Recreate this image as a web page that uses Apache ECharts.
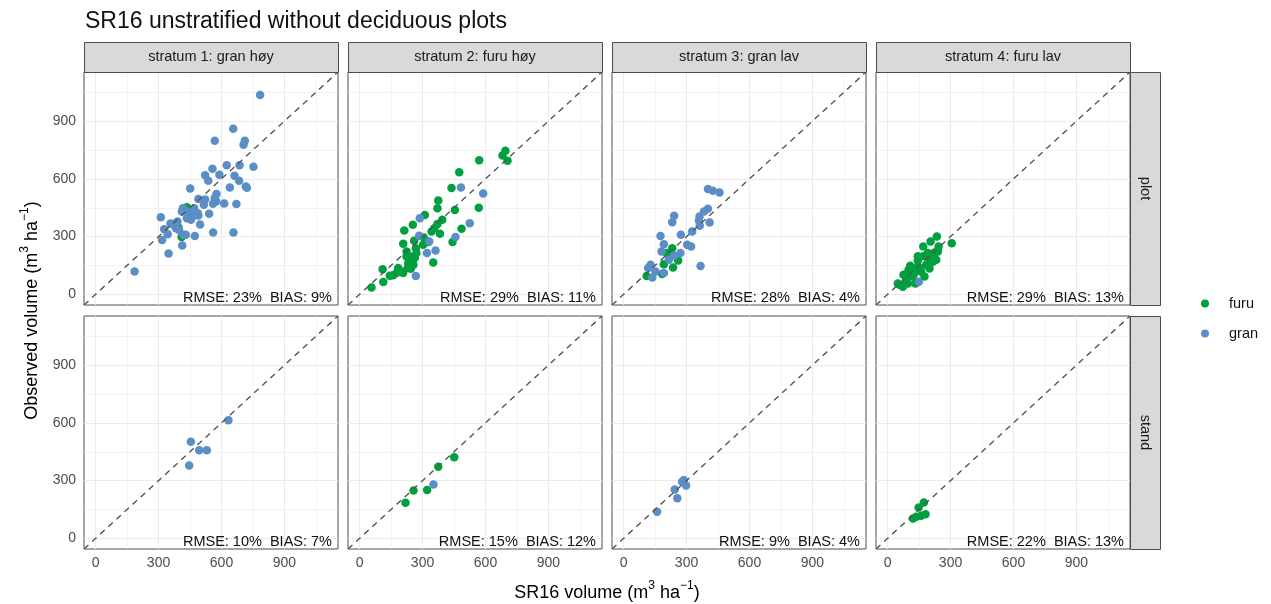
<!DOCTYPE html>
<html>
<head>
<meta charset="utf-8">
<script src="https://cdn.jsdelivr.net/npm/echarts@6/dist/echarts.min.js"></script>
<style>
  html, body { margin: 0; padding: 0; background: #ffffff; }
  #chart { width: 1271px; height: 604px; }
</style>
</head>
<body>
<div id="chart"></div>
<script>
// Facet labels and per-panel accuracy statistics
const strata = ['stratum 1: gran høy', 'stratum 2: furu høy', 'stratum 3: gran lav', 'stratum 4: furu lav'];
const levels = ['plot', 'stand'];
const species = ['furu', 'gran'];
const rmse = [[23, 29, 28, 29], [10, 15, 9, 22]];
const bias = [[9, 11, 4, 13], [7, 12, 4, 13]];
const majorTicks = [0, 300, 600, 900];
const minorTicks = [150, 450, 750, 1050];
const axisRange = [-55, 1155];

// Plot level: [SR16 volume, observed volume]
const plotS1Furu = [[435, 452], [395, 348], [410, 298]];
const plotS1Gran = [[784, 1035], [656, 860], [568, 798], [711, 798], [705, 777], [625, 671], [686, 671], [752, 663],
  [557, 652], [522, 619], [590, 621], [662, 616], [537, 590], [684, 590], [716, 561], [721, 554], [640, 555],
  [451, 550], [576, 521], [568, 500], [490, 495], [522, 493], [575, 483], [560, 471], [613, 472], [671, 469],
  [516, 465], [416, 448], [470, 448], [443, 431], [487, 422], [490, 410], [541, 419], [470, 410], [435, 396],
  [311, 401], [411, 431], [454, 388], [390, 379], [357, 368], [371, 365], [498, 363], [327, 339], [383, 344],
  [398, 334], [344, 313], [560, 322], [657, 322], [317, 282], [419, 310], [430, 310], [473, 303], [413, 254],
  [348, 213], [186, 119]];
const plotS2Furu = [[695, 746], [681, 721], [705, 694], [570, 697], [475, 635], [438, 552], [568, 450], [454, 438],
  [375, 488], [371, 448], [311, 413], [254, 362], [394, 388], [371, 365], [356, 344], [383, 315], [343, 327],
  [213, 332], [208, 263], [260, 279], [306, 296], [327, 272], [303, 258], [486, 341], [443, 272], [268, 240],
  [271, 215], [224, 197], [248, 180], [232, 163], [257, 154], [351, 166], [184, 137], [244, 133], [200, 119],
  [176, 111], [160, 99], [144, 97], [110, 131], [113, 64], [57, 36], [224, 223], [240, 197], [263, 189],
  [229, 137], [208, 111]];
const plotS2Gran = [[483, 555], [589, 524], [287, 396], [525, 369], [457, 298], [284, 304], [332, 275], [362, 228],
  [321, 215], [268, 95]];
const plotS3Furu = [[232, 240], [205, 215], [192, 157], [260, 176], [236, 140], [110, 95], [184, 106], [216, 206]];
const plotS3Gran = [[402, 548], [425, 538], [457, 529], [402, 445], [383, 431], [362, 405], [359, 384], [410, 374],
  [241, 408], [232, 375], [363, 356], [327, 327], [273, 310], [176, 303], [192, 261], [303, 258], [322, 249],
  [181, 223], [271, 215], [240, 201], [216, 180], [367, 147], [129, 154], [117, 137], [152, 119], [137, 88],
  [192, 111]];
const plotS4Furu = [[235, 301], [205, 275], [170, 249], [306, 266], [243, 249], [224, 218], [192, 215], [170, 198],
  [144, 175], [108, 149], [100, 128], [76, 102], [57, 50], [49, 57], [89, 75], [121, 93], [160, 119], [200, 135],
  [216, 170], [232, 180], [184, 154], [152, 137], [129, 111], [97, 57], [108, 102], [133, 57], [73, 40],
  [176, 93], [200, 189], [137, 137], [240, 223], [144, 198], [113, 128]];
const plotS4Gran = [[149, 66]];

// Stand level: [SR16 volume, observed volume]
const standS1Furu = [];
const standS1Gran = [[633, 614], [454, 502], [494, 458], [530, 458], [446, 379]];
const standS2Furu = [[451, 422], [375, 372], [257, 249], [322, 251], [219, 185]];
const standS2Gran = [[352, 280]];
const standS3Furu = [];
const standS3Gran = [[287, 303], [298, 275], [279, 294], [244, 254], [256, 208], [160, 138]];
const standS4Furu = [[173, 187], [148, 161], [181, 126], [160, 118], [121, 104], [137, 112]];
const standS4Gran = [];

const panelData = [
  [[plotS1Furu, plotS1Gran], [plotS2Furu, plotS2Gran], [plotS3Furu, plotS3Gran], [plotS4Furu, plotS4Gran]],
  [[standS1Furu, standS1Gran], [standS2Furu, standS2Gran], [standS3Furu, standS3Gran], [standS4Furu, standS4Gran]]
];

// Layout of the facet grid
const FONT = 'Liberation Sans, Arial, Helvetica, sans-serif';
const colLeft = [84, 348, 612, 876];
const rowTop = [72, 316];
const panelW = 254;
const panelH = 233;
const stripH = 30;
const stripW = 30;
const speciesColor = { furu: '#00A03E', gran: '#5B8EC6' };
const gridLineColor = '#EBEBEB';
const borderColor = '#4d4d4d';

const grids = [], xAxes = [], yAxes = [], series = [], graphics = [];

levels.forEach((lvl, r) => {
  strata.forEach((st, c) => {
    const g = r * 4 + c;
    grids.push({
      left: colLeft[c], top: rowTop[r], width: panelW, height: panelH,
      show: true, borderColor: borderColor, borderWidth: 1, backgroundColor: '#ffffff'
    });
    const showX = r === levels.length - 1;
    const showY = c === 0;
    xAxes.push({
      type: 'value', gridIndex: g, min: axisRange[0], max: axisRange[1],
      axisLine: { show: false },
      axisTick: { show: showX, customValues: majorTicks, length: 4, lineStyle: { color: '#333333' } },
      axisLabel: { show: showX, customValues: majorTicks, color: '#4D4D4D', fontSize: 14, fontFamily: FONT, margin: 7 },
      splitLine: { show: false }
    });
    yAxes.push({
      type: 'value', gridIndex: g, min: axisRange[0], max: axisRange[1],
      axisLine: { show: false },
      axisTick: { show: showY, customValues: majorTicks, length: 4, lineStyle: { color: '#333333' } },
      axisLabel: { show: showY, customValues: majorTicks, color: '#4D4D4D', fontSize: 14, fontFamily: FONT, margin: 8 },
      splitLine: { show: false }
    });

    // background grid lines (minor, then major), kept beneath the points
    const gridLines = (ticks, width) => ({
      type: 'line', xAxisIndex: g, yAxisIndex: g, data: [[axisRange[0], axisRange[0]]],
      showSymbol: false, symbol: 'none', lineStyle: { opacity: 0 }, silent: true, z: 1,
      markLine: {
        silent: true, symbol: ['none', 'none'], label: { show: false },
        animation: false, z: 1,
        lineStyle: { color: gridLineColor, width: width, type: 'solid' },
        emphasis: { disabled: true },
        data: ticks.map(v => ({ xAxis: v })).concat(ticks.map(v => ({ yAxis: v })))
      }
    });
    series.push(gridLines(minorTicks, 0.6));
    series.push(gridLines(majorTicks, 1.1));

    // observations
    species.forEach((sp, k) => {
      series.push({
        type: 'scatter', name: sp, xAxisIndex: g, yAxisIndex: g,
        data: panelData[r][c][k], symbolSize: 8.5,
        itemStyle: { color: speciesColor[sp], opacity: 1 },
        z: 3
      });
    });

    // 1:1 reference line
    series.push({
      type: 'line', xAxisIndex: g, yAxisIndex: g,
      data: [[axisRange[0], axisRange[0]], [axisRange[1], axisRange[1]]],
      showSymbol: false, symbol: 'none', silent: true, z: 6,
      lineStyle: { color: '#555555', width: 1.4, type: [6, 5] }
    });

    // accuracy annotation in the lower-right corner
    graphics.push({
      type: 'text', z: 100,
      x: colLeft[c] + panelW - 6, y: rowTop[r] + panelH,
      style: {
        text: 'RMSE: ' + rmse[r][c] + '%  BIAS: ' + bias[r][c] + '%',
        fill: '#111111', font: '14.5px ' + FONT, align: 'right', verticalAlign: 'bottom'
      }
    });
  });
});

// column strips
strata.forEach((st, c) => {
  graphics.push({
    type: 'rect', z: 50,
    shape: { x: colLeft[c] + 0.5, y: rowTop[0] - stripH + 0.5, width: panelW, height: stripH },
    style: { fill: '#D9D9D9', stroke: borderColor, lineWidth: 1 }
  });
  graphics.push({
    type: 'text', z: 51,
    x: colLeft[c] + panelW / 2, y: rowTop[0] - stripH / 2,
    style: { text: st, fill: '#1A1A1A', font: '14.5px ' + FONT, align: 'center', verticalAlign: 'middle' }
  });
});

// row strips
levels.forEach((lvl, r) => {
  const x0 = colLeft[3] + panelW;
  graphics.push({
    type: 'rect', z: 50,
    shape: { x: x0 + 0.5, y: rowTop[r] + 0.5, width: stripW, height: panelH },
    style: { fill: '#D9D9D9', stroke: borderColor, lineWidth: 1 }
  });
  graphics.push({
    type: 'text', z: 51,
    x: x0 + stripW / 2, y: rowTop[r] + panelH / 2, rotation: -Math.PI / 2,
    style: { text: lvl, fill: '#1A1A1A', font: '14.5px ' + FONT, align: 'center', verticalAlign: 'middle' }
  });
});

// axis titles with superscript units
const unitRich = {
  a: { fontSize: 18, fontFamily: FONT, color: '#000000', lineHeight: 22, verticalAlign: 'bottom' },
  s: { fontSize: 12, fontFamily: FONT, color: '#000000', lineHeight: 22, verticalAlign: 'top' }
};
const unitTitle = (name) => '{a|' + name + ' (m}{s|3}{a| ha}{s|−1}{a|)}';
graphics.push({
  type: 'text', z: 60,
  x: (colLeft[0] + colLeft[3] + panelW) / 2, y: 591,
  style: { text: unitTitle('SR16 volume'), rich: unitRich, align: 'center', verticalAlign: 'middle' }
});
graphics.push({
  type: 'text', z: 60,
  x: 30, y: (rowTop[0] + rowTop[1] + panelH) / 2, rotation: Math.PI / 2,
  style: { text: unitTitle('Observed volume'), rich: unitRich, align: 'center', verticalAlign: 'middle' }
});

const chart = echarts.init(document.getElementById('chart'), null, { renderer: 'canvas' });
chart.setOption({
  animation: false,
  backgroundColor: '#ffffff',
  title: {
    text: 'SR16 unstratified without deciduous plots',
    left: 80, top: 5,
    textStyle: { fontSize: 23, fontWeight: 'normal', color: '#111111', fontFamily: FONT }
  },
  legend: {
    data: species,
    orient: 'vertical', left: 1196, top: 291,
    icon: 'circle', itemWidth: 8, itemHeight: 8, itemGap: 15,
    textStyle: { fontSize: 14.5, color: '#111111', fontFamily: FONT, padding: [0, 0, 0, 15] }
  },
  grid: grids,
  xAxis: xAxes,
  yAxis: yAxes,
  series: series,
  graphic: graphics
});
</script>
</body>
</html>
